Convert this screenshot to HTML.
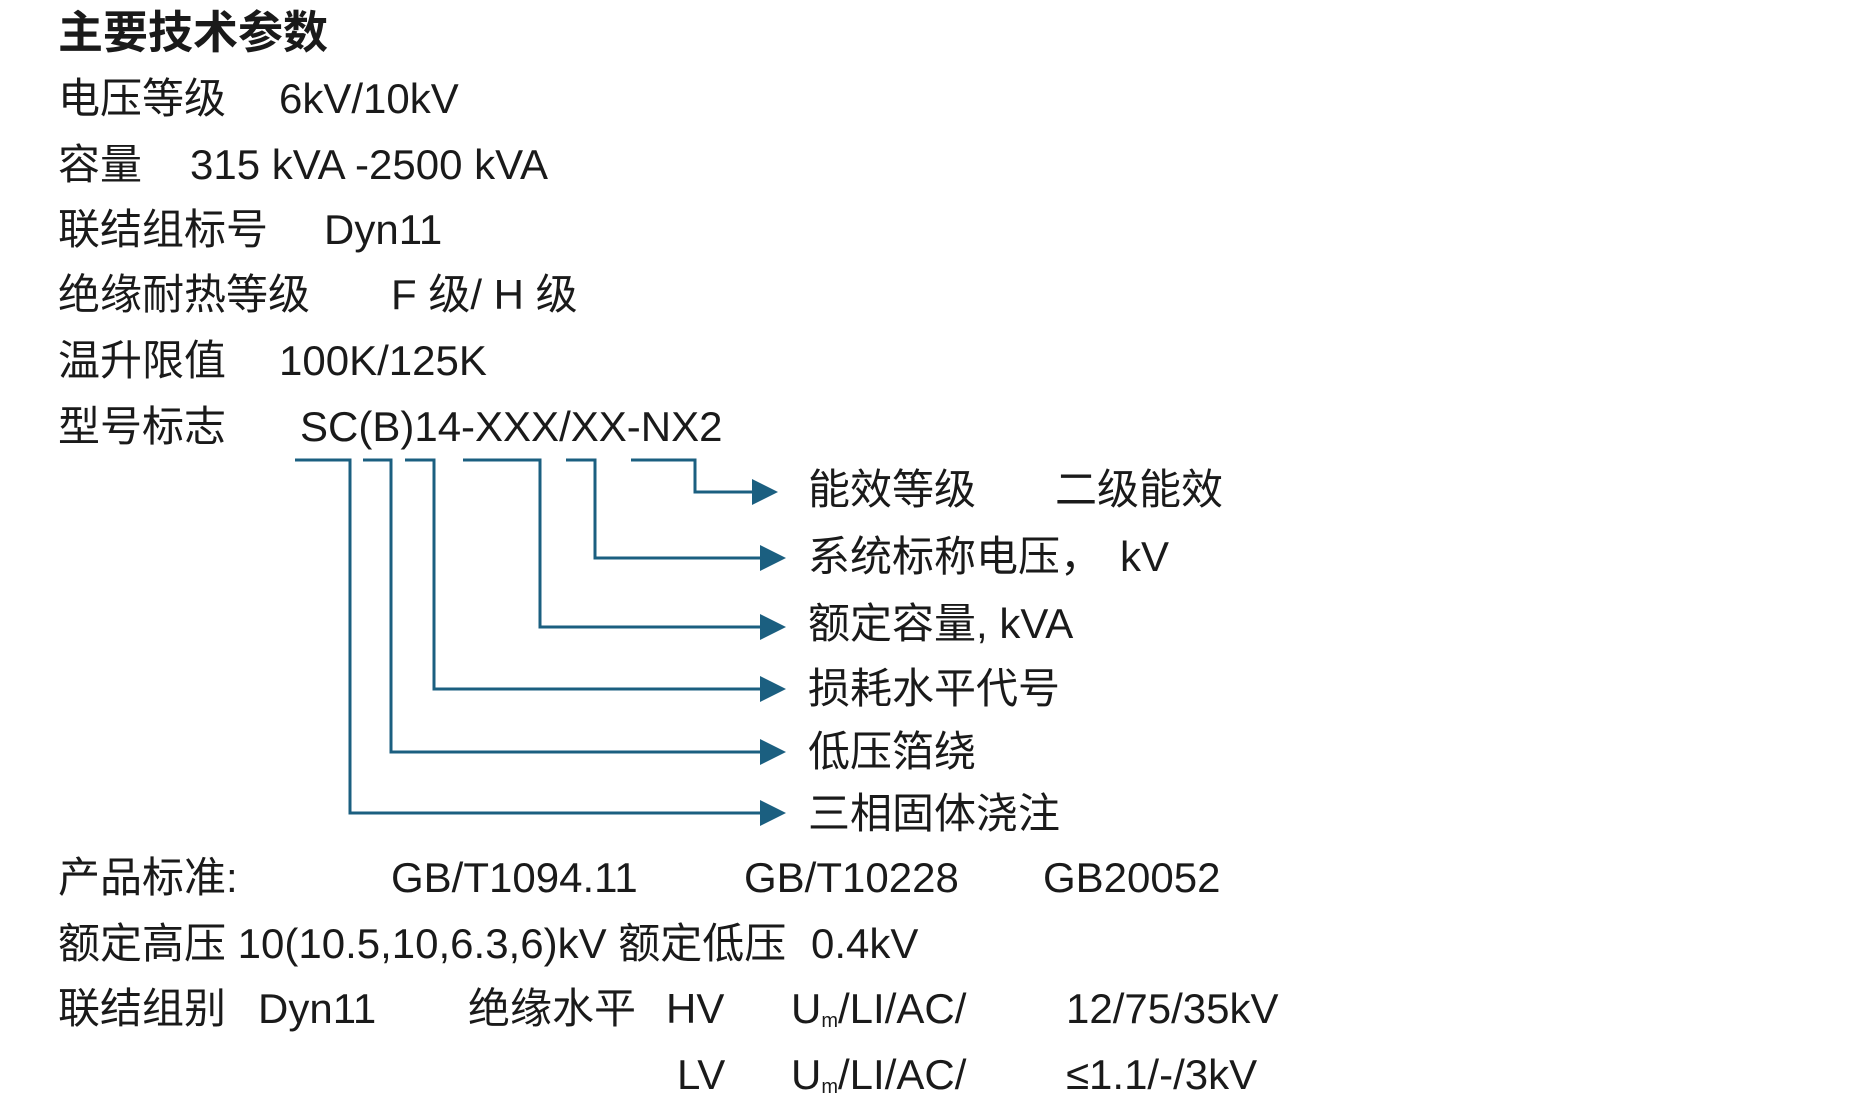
<!DOCTYPE html>
<html><head><meta charset="utf-8"><style>
html,body{margin:0;padding:0;background:#fff;}
body{width:1867px;height:1104px;position:relative;overflow:hidden;font-family:"Liberation Sans","Noto Sans CJK SC",sans-serif;font-size:42px;color:#1a1a1a;}
.t{position:absolute;line-height:50px;height:50px;white-space:pre;}
sub{font-size:20px;vertical-align:-4px;}
</style></head><body>
<div class="t" style="left:58px;top:8px;font-weight:bold;font-size:45px;">主要技术参数</div>
<div class="t" style="left:58px;top:74px;">电压等级</div><div class="t" style="left:279px;top:74px;">6kV/10kV</div>
<div class="t" style="left:58px;top:140px;">容量</div><div class="t" style="left:190px;top:140px;">315 kVA -2500 kVA</div>
<div class="t" style="left:58px;top:205px;">联结组标号</div><div class="t" style="left:324px;top:205px;">Dyn11</div>
<div class="t" style="left:58px;top:270px;">绝缘耐热等级</div><div class="t" style="left:391px;top:270px;">F 级/ H 级</div>
<div class="t" style="left:58px;top:336px;">温升限值</div><div class="t" style="left:279px;top:336px;">100K/125K</div>
<div class="t" style="left:58px;top:402px;">型号标志</div><div class="t" style="left:300px;top:402px;">SC(B)14-XXX/XX-NX2</div>
<svg style="position:absolute;left:0;top:0" width="1867" height="1104">
<g fill="none" stroke="#1b5f80" stroke-width="3">
<polyline points="295,460 350,460 350,813 765,813"/>
<polyline points="363,460 391,460 391,752 765,752"/>
<polyline points="405,460 434,460 434,689 765,689"/>
<polyline points="463,460 540,460 540,627 765,627"/>
<polyline points="566,460 595,460 595,558 765,558"/>
<polyline points="631,460 695,460 695,492 755,492"/>
</g>
<g fill="#1b5f80">
<polygon points="760,800 786,813 760,826"/>
<polygon points="760,739 786,752 760,765"/>
<polygon points="760,676 786,689 760,702"/>
<polygon points="760,614 786,627 760,640"/>
<polygon points="760,545 786,558 760,571"/>
<polygon points="752,479 778,492 752,505"/>
</g></svg>
<div class="t" style="left:808px;top:465px;">能效等级</div><div class="t" style="left:1055px;top:465px;">二级能效</div>
<div class="t" style="left:808px;top:532px;">系统标称电压，</div><div class="t" style="left:1120px;top:532px;">kV</div>
<div class="t" style="left:808px;top:599px;">额定容量, kVA</div>
<div class="t" style="left:808px;top:664px;">损耗水平代号</div>
<div class="t" style="left:808px;top:727px;">低压箔绕</div>
<div class="t" style="left:808px;top:789px;">三相固体浇注</div>
<div class="t" style="left:58px;top:853px;">产品标准:</div><div class="t" style="left:391px;top:853px;">GB/T1094.11</div><div class="t" style="left:744px;top:853px;">GB/T10228</div><div class="t" style="left:1043px;top:853px;">GB20052</div>
<div class="t" style="left:58px;top:919px;">额定高压 10(10.5,10,6.3,6)kV 额定低压</div><div class="t" style="left:811px;top:919px;">0.4kV</div>
<div class="t" style="left:58px;top:984px;">联结组别</div><div class="t" style="left:258px;top:984px;">Dyn11</div><div class="t" style="left:468px;top:984px;">绝缘水平</div><div class="t" style="left:666px;top:984px;">HV</div><div class="t" style="left:791px;top:984px;">U<sub>m</sub>/LI/AC/</div><div class="t" style="left:1066px;top:984px;">12/75/35kV</div>
<div class="t" style="left:677px;top:1050px;">LV</div><div class="t" style="left:791px;top:1050px;">U<sub>m</sub>/LI/AC/</div><div class="t" style="left:1066px;top:1050px;">≤1.1/-/3kV</div>
</body></html>
